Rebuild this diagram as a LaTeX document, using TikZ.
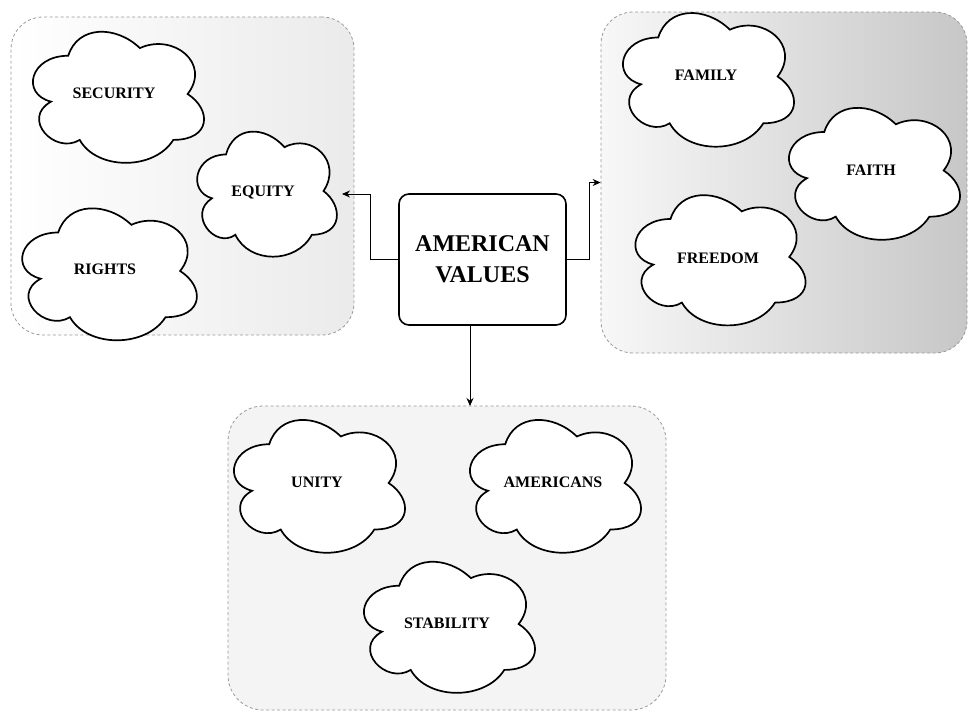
\documentclass[tikz,border=0pt]{standalone}
\usepackage{fontspec}
\setmainfont{Liberation Serif}
\usetikzlibrary{arrows.meta,calc}
\definecolor{dashgray}{HTML}{9A9A9A}
\definecolor{lightfill}{HTML}{F4F4F4}
\tikzset{
  container/.style={draw=dashgray, line width=0.8pt, dash pattern=on 3pt off 2.5pt,
    rounded corners=32pt, inner sep=0pt},
  cloudline/.style={draw=black, fill=white, line width=1.7pt},
  cloudtext/.style={font=\fontsize{16}{19}\selectfont\bfseries, inner sep=1pt},
  mainbox/.style={draw=black, fill=white, line width=1.6pt, rounded corners=10pt,
    minimum width=167pt, minimum height=131pt, align=center,
    font=\fontsize{24}{31}\selectfont\bfseries},
  conn/.style={draw=black, line width=0.9pt, -{Stealth[length=8pt,width=7pt]}}
}
\newcommand\mycloud[4]{%
  \begin{scope}[shift={({#1-#3/2},{#2-#4/2})}, xscale=#3, yscale=#4]
    \path[cloudline] (0.25,0.25) .. controls (0.05,0.25) and (0,0.5) .. (0.16,0.55)
      .. controls (0,0.66) and (0.18,0.9) .. (0.31,0.8)
      .. controls (0.4,1) and (0.7,1) .. (0.8,0.8)
      .. controls (1,0.8) and (1,0.6) .. (0.875,0.5)
      .. controls (1,0.3) and (0.8,0.1) .. (0.625,0.2)
      .. controls (0.5,0.05) and (0.3,0.05) .. (0.25,0.25) -- cycle;
  \end{scope}}
\begin{document}
\begin{tikzpicture}[x=1pt,y=-1pt]
\useasboundingbox (0,0) rectangle (968,711);
% containers
\node[container, minimum width=343pt, minimum height=318pt,
      left color=white, right color=black!8] (leftgrp) at (182.5,176) {};
\node[container, minimum width=366pt, minimum height=341pt,
      left color=black!3, right color=black!22] (rightgrp) at (784,182.5) {};
\node[container, minimum width=438pt, minimum height=304pt,
      fill=lightfill, rounded corners=35pt] (bottomgrp) at (447,558) {};
% clouds of the left group
\mycloud{116}{94}{191}{153}
\node[cloudtext] (security) at (114,93) {SECURITY};
\mycloud{265}{191}{156}{146}
\node[cloudtext] (equity) at (263,193) {EQUITY};
\mycloud{107}{271}{195}{154}
\node[cloudtext] (rights) at (105,269) {RIGHTS};
% clouds of the right group
\mycloud{706}{76.5}{191}{156}
\node[cloudtext] (family) at (706,75) {FAMILY};
\mycloud{872}{170.5}{191}{154}
\node[cloudtext] (faith) at (871,170) {FAITH};
\mycloud{718}{257}{190}{152}
\node[cloudtext] (freedom) at (718,258) {FREEDOM};
% clouds of the bottom group
\mycloud{317}{483}{191}{155}
\node[cloudtext] (unity) at (317,482) {UNITY};
\mycloud{553}{483}{191}{155}
\node[cloudtext] (americans) at (553,482) {AMERICANS};
\mycloud{447}{624}{191}{153}
\node[cloudtext] (stability) at (447,623) {STABILITY};
% central box
\node[mainbox] (values) at (482.5,259.5) {AMERICAN\\VALUES};
% connectors
\coordinate (eqin) at (342,194);
\coordinate (downin) at (470,406);
\draw[conn] (values.west) -- ++(-28,0) |- (eqin);
\draw[conn] (values.east) -- ++(23,0) |- (rightgrp.west);
\draw[conn] (values.south -| downin) -- (downin);
\end{tikzpicture}
\end{document}
